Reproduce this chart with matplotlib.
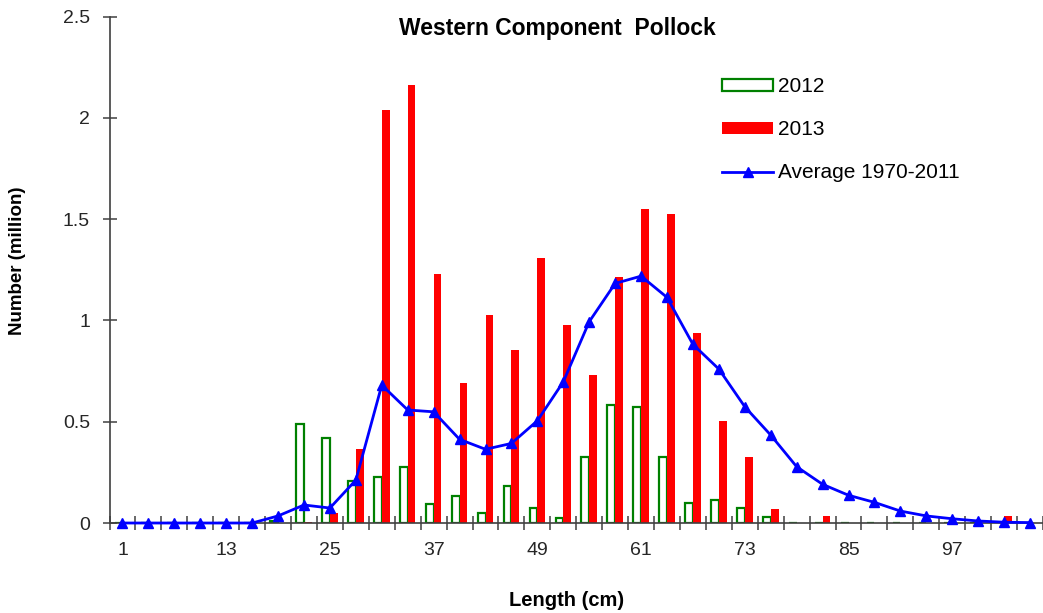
import numpy as np
import matplotlib.pyplot as plt
from matplotlib.ticker import MultipleLocator, FuncFormatter

plt.rcParams['font.family'] = ['Liberation Sans', 'DejaVu Sans']

# Length classes (cm)
lengths = list(range(1, 107, 3))

# Numbers (million)
n2012 = [0, 0, 0, 0, 0, 0, 0.01, 0.487, 0.421, 0.209, 0.227, 0.278,
         0.094, 0.133, 0.051, 0.183, 0.076, 0.026, 0.327, 0.582, 0.574, 0.327,
         0.100, 0.114, 0.076, 0.031, 0, 0, 0, 0, 0, 0, 0, 0, 0, 0]
n2013 = [0, 0, 0, 0, 0, 0, 0, 0.005, 0.051, 0.364, 2.038, 2.165,
         1.229, 0.693, 1.027, 0.854, 1.308, 0.977, 0.729, 1.216, 1.550, 1.527,
         0.936, 0.503, 0.324, 0.068, 0, 0.035, 0, 0, 0, 0, 0, 0, 0.035, 0]
avg_1970_2011 = [0, 0, 0, 0, 0, 0, 0.035, 0.089, 0.074, 0.212, 0.681, 0.558,
                 0.549, 0.413, 0.364, 0.393, 0.505, 0.697, 0.994, 1.183, 1.219, 1.114,
                 0.882, 0.760, 0.574, 0.434, 0.278, 0.191, 0.137, 0.102, 0.059, 0.035,
                 0.021, 0.010, 0.004, 0.002]

x = np.arange(len(lengths))
w = 0.3

fig = plt.figure(figsize=(10.43, 6.13), dpi=100)
ax = fig.add_axes([0.105, 0.1468, 0.895, 0.826])

b1 = ax.bar(x - w / 2, n2012, width=w, facecolor='white', edgecolor='#008000',
            linewidth=1.6, zorder=2)
b2 = ax.bar(x + w / 2, n2013, width=w, color='#FF0000', zorder=2)
l1, = ax.plot(x, avg_1970_2011, color='#0000FF', lw=2, marker='^', ms=7.5,
              zorder=3, clip_on=False)

ax.set_xlim(-0.5, len(lengths) - 0.5)
ax.set_ylim(0, 2.5)

ax.spines['top'].set_visible(False)
ax.spines['right'].set_visible(False)
for s in ['left', 'bottom']:
    ax.spines[s].set_color('#404040')
    ax.spines[s].set_linewidth(1.2)

# category labels every 4th class, tick marks at class boundaries
ax.set_xticks(x[::4])
ax.set_xticklabels([str(lengths[i]) for i in x[::4]])
ax.set_xticks(np.arange(-0.5, len(lengths), 1), minor=True)
ax.tick_params(axis='x', which='major', length=0, pad=14, labelsize=14, colors='#262626')
ax.tick_params(axis='x', which='minor', direction='inout', length=10, width=1.1, color='#404040')

ax.yaxis.set_major_locator(MultipleLocator(0.5))
ax.yaxis.set_major_formatter(FuncFormatter(lambda v, p: f'{v:g}'))
ax.tick_params(axis='y', direction='inout', length=10, width=1.1, color='#404040',
               pad=9, labelsize=14, labelcolor='#262626')

fig.text(557 / 1043, 1 - 28 / 613, 'Western Component  Pollock', ha='center', va='center',
         fontsize=16.5, fontweight='bold')
fig.text(18 / 1043, 1 - 261 / 613, 'Number (million)', rotation=90, ha='center', va='center',
         fontsize=13.5, fontweight='bold')
fig.text(567 / 1043, 1 - 600 / 613, 'Length (cm)', ha='center', va='center',
         fontsize=14.5, fontweight='bold')

fig.legend([b1, b2, l1], ['2012', '2013', 'Average 1970-2011'],
           loc='upper left', bbox_to_anchor=(722 / 1043, 1 - 77 / 613), frameon=False,
           fontsize=15, handlelength=2.45, handleheight=0.5, labelspacing=1.16,
           handletextpad=0.25, borderpad=0, borderaxespad=0)

fig.savefig('out.png', dpi=100)
